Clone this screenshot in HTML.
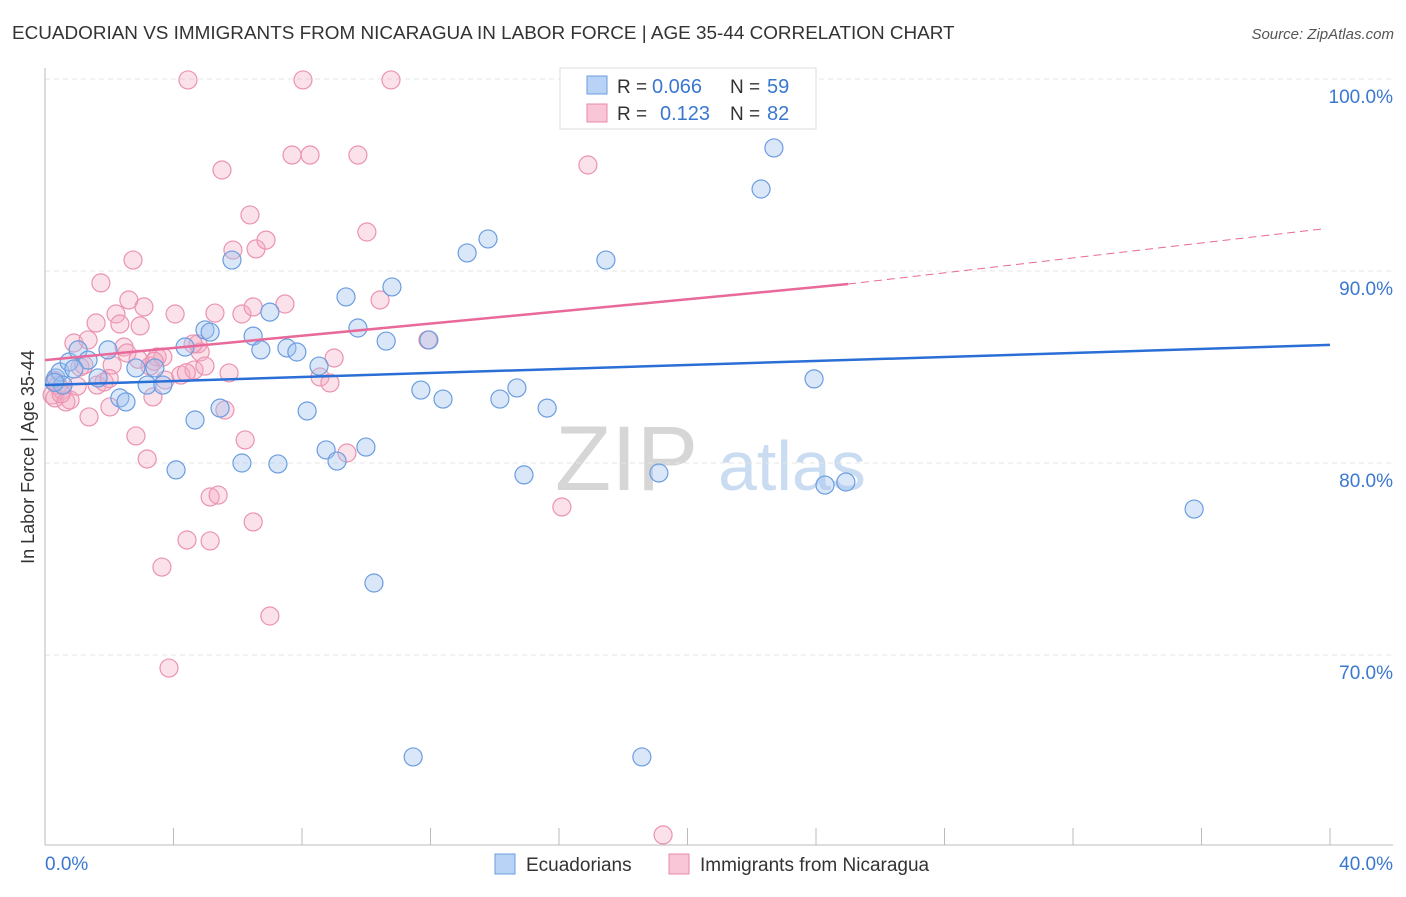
<!DOCTYPE html>
<html><head><meta charset="utf-8"><style>
body{margin:0;background:#fff;font-family:"Liberation Sans",sans-serif;}
svg text{font-family:"Liberation Sans",sans-serif;}
</style></head><body>
<svg id="c" width="1406" height="892">
<text x="12" y="39" font-size="18.9" fill="#333">ECUADORIAN VS IMMIGRANTS FROM NICARAGUA IN LABOR FORCE | AGE 35-44 CORRELATION CHART</text>
<text x="1394" y="39" font-size="15" fill="#555" font-style="italic" text-anchor="end">Source: ZipAtlas.com</text>
<text x="34" y="457" font-size="18" fill="#333" text-anchor="middle" transform="rotate(-90 34 457)">In Labor Force | Age 35-44</text>
<text x="555" y="490" font-size="92" fill="#d6d6d6" font-family="Liberation Serif">ZIP</text>
<text x="718" y="490" font-size="70" fill="#cadcf2">atlas</text>
<g id="grid"></g><g id="pts"></g><g id="lines"></g>
<g>
<rect x="560" y="68" width="256" height="61" fill="#fff" stroke="#ddd"/>
<rect x="587" y="76" width="20" height="18" fill="#b8d3f5" stroke="#6b9de0"/>
<text x="617" y="93" font-size="19" fill="#333">R =</text>
<text x="652" y="93" font-size="20" fill="#3a78d0">0.066</text>
<text x="730" y="93" font-size="19" fill="#333">N =</text>
<text x="767" y="93" font-size="20" fill="#3a78d0">59</text>
<rect x="587" y="104" width="20" height="18" fill="#f8c6d6" stroke="#e88aa8"/>
<text x="617" y="120" font-size="19" fill="#333">R =</text>
<text x="660" y="120" font-size="20" fill="#3a78d0">0.123</text>
<text x="730" y="120" font-size="19" fill="#333">N =</text>
<text x="767" y="120" font-size="20" fill="#3a78d0">82</text>
</g>
<g>
<rect x="495" y="854" width="20" height="20" fill="#b8d3f5" stroke="#6b9de0"/>
<text x="526" y="871" font-size="19" fill="#333">Ecuadorians</text>
<rect x="669" y="854" width="20" height="20" fill="#f8c6d6" stroke="#e88aa8"/>
<text x="700" y="871" font-size="19" fill="#333">Immigrants from Nicaragua</text>
</g>
</svg>
<script>
const blueX=[0.34,0.47,0.56,0.75,1.03,1.34,1.65,1.96,2.33,2.52,2.83,3.18,3.42,3.67,4.08,4.36,4.67,4.98,5.14,5.45,5.82,6.13,6.48,6.72,7.00,7.25,7.53,7.84,8.16,8.53,8.75,9.09,9.37,9.74,9.99,10.24,10.62,10.80,11.46,11.70,11.95,12.39,13.14,13.79,14.16,14.69,14.91,15.63,17.46,18.58,19.11,22.29,22.69,23.94,24.28,24.93,35.77,0.3,0.9];
const blueY=[84.43,84.74,84.06,85.26,85.89,85.36,84.43,85.89,83.39,83.18,84.95,84.06,84.95,84.06,79.64,86.04,82.24,86.93,86.82,82.86,90.57,80.0,86.61,85.89,87.86,79.95,85.99,85.78,82.71,85.05,80.68,80.10,88.65,87.03,80.83,73.75,86.35,89.17,64.69,83.80,86.41,83.33,90.94,91.67,83.33,83.91,79.38,82.86,90.57,64.69,79.48,94.27,96.41,84.38,78.85,79.01,77.60,84.2,84.9];
const pinkX=[0.22,0.31,0.40,0.53,0.65,0.78,0.90,1.09,1.21,1.34,1.37,1.59,1.62,1.74,1.84,2.02,2.09,2.21,2.33,2.46,2.55,2.61,2.74,2.83,2.96,3.08,3.18,3.27,3.36,3.49,3.64,3.74,3.86,4.05,4.23,4.42,4.45,4.64,4.76,4.83,4.98,5.14,5.14,5.29,5.39,5.51,5.60,5.73,5.85,6.13,6.23,6.38,6.48,6.48,6.57,6.88,7.00,7.47,7.69,8.03,8.25,8.56,8.87,9.00,9.40,9.74,10.02,10.43,10.77,11.92,16.09,16.90,19.24,3.67,4.61,0.3,0.5,1.0,2.0,2.9,3.4,4.4];
const pinkY=[83.54,83.39,84.06,83.80,83.18,83.28,86.25,85.0,85.10,86.41,82.40,87.29,84.06,89.38,84.22,82.92,85.10,87.76,87.24,86.04,85.73,88.49,90.57,81.41,87.14,88.13,80.21,85.05,83.44,85.52,74.58,84.32,69.32,87.76,84.58,75.99,99.95,84.84,86.20,85.78,85.05,78.23,75.94,87.81,78.33,95.26,82.76,84.69,91.09,87.76,81.20,92.92,76.93,88.13,91.15,91.61,72.03,88.28,96.04,99.95,96.04,84.48,84.17,85.47,80.52,96.04,92.03,88.49,99.95,86.41,77.71,95.52,60.63,85.52,86.20,84.3,83.6,84.0,84.4,85.4,85.3,84.7];
const yTicks=[100,90,80,70];
const xTickVals=[0,4,8,12,16,20,24,28,32,36,40];
const blueLine=[84.06,86.15]; // value at x=0 and x=40
const pinkLine=[85.36,89.32,92.2]; // x=0, x=25 (solid end), x=39.8
const X=v=>45+v/40*1285, Y=v=>79+(100-v)*19.2;
const NS="http://www.w3.org/2000/svg";
function mk(p,t,a){const e=document.createElementNS(NS,t);for(const k in a)e.setAttribute(k,a[k]);p.appendChild(e);return e;}
const g=document.getElementById('grid');
yTicks.forEach(v=>{const l=mk(g,'line',{x1:45,x2:1393,y1:Y(v),y2:Y(v),stroke:'#e4e4e4','stroke-dasharray':'5,4'});


const t=mk(g,'text',{x:1393,y:Y(v)+24,'font-size':19,fill:'#3a78d0','text-anchor':'end'});t.textContent=v.toFixed(1)+'%';

});
mk(g,'line',{x1:45,x2:45,y1:68,y2:845,stroke:'#bbb'});
mk(g,'line',{x1:45,x2:1393,y1:845,y2:845,stroke:'#bbb'});
xTickVals.forEach(v=>{const l=mk(g,'line',{x1:X(v),x2:X(v),y1:828,y2:845,stroke:'#bbb'});

});
[[0,'0.0%','start',45],[40,'40.0%','end',1393]].forEach(d=>{const t=mk(g,'text',{x:d[3],y:870,'font-size':19,fill:'#3a78d0','text-anchor':d[2]});t.textContent=d[1];

});
const p=document.getElementById('pts');
pinkX.forEach((x,i)=>{const c=mk(p,'circle',{cx:X(x),cy:Y(pinkY[i]),r:9,fill:'rgba(244,170,195,0.35)',stroke:'#eb93b0','stroke-width':1.2});

});
blueX.forEach((x,i)=>{const c=mk(p,'circle',{cx:X(x),cy:Y(blueY[i]),r:9,fill:'rgba(160,196,240,0.4)',stroke:'#6b9de0','stroke-width':1.2});

});
const L=document.getElementById('lines');
let a=mk(L,'line',{x1:X(0),y1:Y(blueLine[0]),x2:X(40),y2:Y(blueLine[1]),stroke:'#2a6fd6','stroke-width':2.5});


a=mk(L,'line',{x1:X(0),y1:Y(pinkLine[0]),x2:X(25),y2:Y(pinkLine[1]),stroke:'#e8699a','stroke-width':2.5});


a=mk(L,'line',{x1:X(25),y1:Y(pinkLine[1]),x2:X(39.8),y2:Y(pinkLine[2]),stroke:'#e8699a','stroke-width':1,'stroke-dasharray':'8,5'});


</script>
</body></html>
